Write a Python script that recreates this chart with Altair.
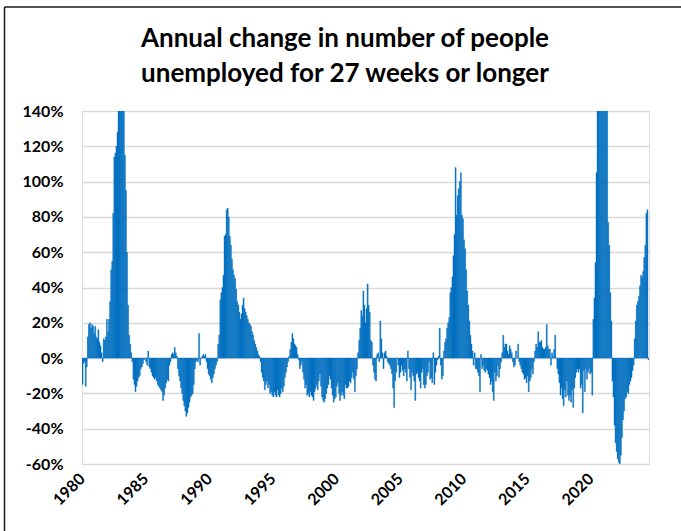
import altair as alt
import pandas as pd

# Year-over-year % change in people unemployed 27+ weeks, monthly from Jan 1980
changes_1980s = [
    -15, -3, -2, -16, -5, 12, 19, 20, 17, 19, 18, 14,
    18, 12, 11, 16, 9, 7, 3, -2, 11, 10, 12, 22,
    15, 22, 32, 50, 55, 82, 114, 116, 120, 128, 150, 160,
    165, 160, 150, 145, 115, 95, 60, 30, 13, 8, 3, -2,
    -12, -15, -19, -16, -13, -11, -10, -6, -5, -3, -1, 0,
    -2, -4, 4, -5, -6, -8, -10, -11, -12, -11, -13, -15,
    -16, -17, -18, -19, -24, -21, -17, -14, -12, -13, -4, -2,
    2, 3, 2, 6, 3, 1, -6, -10, -13, -17, -20, -24,
    -27, -30, -33, -31, -28, -25, -22, -21, -20, -15, -6, -2,
    -1, -2, 14, -4, 0, 1, 2, 1, 2, -2, -6, -9,
]
changes_1990s = [
    -10, -12, -14, -11, -9, -6, -4, -2, 8, 13, 33, 37,
    40, 47, 69, 70, 84, 85, 80, 69, 64, 56, 50, 47,
    45, 39, 32, 30, 26, 22, 25, 30, 34, 28, 26, 24,
    22, 20, 19, 18, 15, 13, 10, 8, 6, 4, 2, 1,
    -2, -8, -11, -13, -18, -15, -13, -17, -15, -20, -19, -21,
    -22, -19, -21, -22, -18, -21, -22, -20, -17, -19, -16, -11,
    -8, -5, -2, 1, 5, 9, 14, 11, 8, 7, 6, 2,
    -1, -6, -4, -2, -8, -12, -17, -15, -21, -20, -22, -19,
    -21, -22, -24, -19, -17, -15, -18, -13, -9, -16, -22, -24,
    -25, -23, -20, -17, -15, -10, -12, -17, -21, -25, -23, -22,
]
changes_2000s = [
    -16, -14, -20, -24, -21, -19, -21, -23, -15, -17, -17, -16,
    -13, -14, -11, -8, -12, -19, -10, -6, 3, 10, 17, 27,
    24, 38, 30, 20, 28, 42, 30, 26, 10, 9, -4, -8,
    -12, -13, 2, 3, -2, 21, 11, 3, -6, 3, 4, 1,
    -2, -3, -4, -6, -9, -17, -28, -13, -8, 0, -4, -11,
    -8, -4, -7, -10, -6, -8, -13, 4, -6, -11, -18, -8,
    -10, -13, -24, -9, -8, -11, -13, -17, -8, -6, -15, -17,
    -15, -10, -8, -2, -12, -11, -14, 3, -15, -8, -4, -1,
    1, 17, -4, -12, -10, 4, 9, 11, 17, 20, 23, 37,
    40, 46, 58, 70, 108, 81, 92, 96, 100, 105, 81, 79,
]
changes_2010s = [
    67, 62, 50, 38, 30, 21, 13, 8, 4, -4, 3, -6,
    -6, -8, -10, -19, 2, -6, -4, -7, -8, -6, -7, -9,
    -11, -15, -13, -19, -24, -8, -13, -10, -4, -11, -6, -2,
    3, 13, 6, 8, 8, 4, 2, 7, 5, 3, -2, -5,
    -4, 4, 0, 8, -2, -4, -6, -8, -9, -12, -11, -14,
    -10, -19, -13, -11, -6, -9, -2, 4, 8, 6, 15, 9,
    9, 10, 6, 5, 5, 6, 19, 7, 5, 5, -4, 3,
    1, 5, 13, 0, -6, -9, -14, -21, -17, -23, -27, -18,
    -22, -13, -21, -24, -21, -25, -18, -28, -17, -11, -8, -6,
    -8, -6, -17, -15, -31, -7, -19, -6, -12, -8, -6, -9,
]
changes_2020s = [
    -8, -21, 22, 34, 54, 105, 150, 170, 180, 190, 200, 210,
    180, 160, 150, 145, 77, 64, 37, 21, -13, -22, -38, -48,
    -53, -57, -59, -61, -55, -45, -35, -30, -23, -22, -19, -20,
    -15, -13, -11, -7, -4, 11, 21, 30, 32, 35, 41, 47,
    46, 49, 57, 64, 82, 84, -1,
]

first_year = 1980
label_years = [1980, 1985, 1990, 1995, 2000, 2005, 2010, 2015, 2020]
y_ticks = [-60, -40, -20, 0, 20, 40, 60, 80, 100, 120, 140]
title_lines = ["Annual change in number of people", "unemployed for 27 weeks or longer"]

changes = changes_1980s + changes_1990s + changes_2000s + changes_2010s + changes_2020s
n_months = len(changes)
df = pd.DataFrame({
    "month": list(range(n_months)),
    "month_end": [m + 1 for m in range(n_months)],
    "change": changes,
})

FONT = "Lato"
BLUE = "#0070C0"

bars = alt.Chart(df).mark_bar(
    color=BLUE, stroke=BLUE, strokeWidth=0.4, clip=True
).encode(
    x=alt.X(
        "month:Q",
        scale=alt.Scale(domain=[0, n_months], nice=False, zero=False),
        axis=alt.Axis(
            values=[(y - first_year) * 12 for y in label_years],
            labelExpr=f"{first_year} + datum.value / 12",
            labelAngle=-45,
            labelAlign="right",
            labelBaseline="middle",
            labelPadding=12,
            labelFontSize=16,
            labelFontWeight="bold",
            labelFont=FONT,
            labelColor="#000000",
            grid=False,
            domain=False,
            ticks=False,
            title=None,
        ),
    ),
    x2="month_end:Q",
    y=alt.Y(
        "change:Q",
        scale=alt.Scale(domain=[-60, 140], nice=False),
        axis=alt.Axis(
            values=y_ticks,
            labelExpr="datum.value + '%'",
            labelFontSize=16,
            labelFontWeight="bold",
            labelFont=FONT,
            labelColor="#000000",
            labelPadding=19,
            gridColor="#d9d9d9",
            gridWidth=1.5,
            domain=False,
            ticks=False,
            title=None,
        ),
    ),
    y2=alt.datum(0),
)

one_row = pd.DataFrame({"k": [0]})

# outer chart frame (left and top edges)
frame_left = alt.Chart(one_row).mark_rule(color="#1a1a1a", strokeWidth=1.5).encode(
    x=alt.value(-77.5), y=alt.value(-104), y2=alt.value(420)
)
frame_top = alt.Chart(one_row).mark_rule(color="#1a1a1a", strokeWidth=1.5).encode(
    x=alt.value(-77.5), x2=alt.value(600), y=alt.value(-104)
)

# two-line chart heading
heading = alt.Chart(one_row).mark_text(
    font=FONT,
    fontSize=26,
    fontWeight="bold",
    color="#000000",
    align="center",
    baseline="alphabetic",
    lineHeight=35,
).encode(
    x=alt.value(263),
    y=alt.value(-64),
    text=alt.value(title_lines),
)

chart = alt.layer(frame_left, frame_top, heading, bars).properties(
    width=567,
    height=353,
    autosize=alt.AutoSizeParams(type="none"),
    padding={"left": 82, "top": 111, "right": 32, "bottom": 67},
).configure_view(stroke=None).configure(background="#ffffff")

chart.save("out.html", embed_options={"renderer": "svg", "actions": False})
